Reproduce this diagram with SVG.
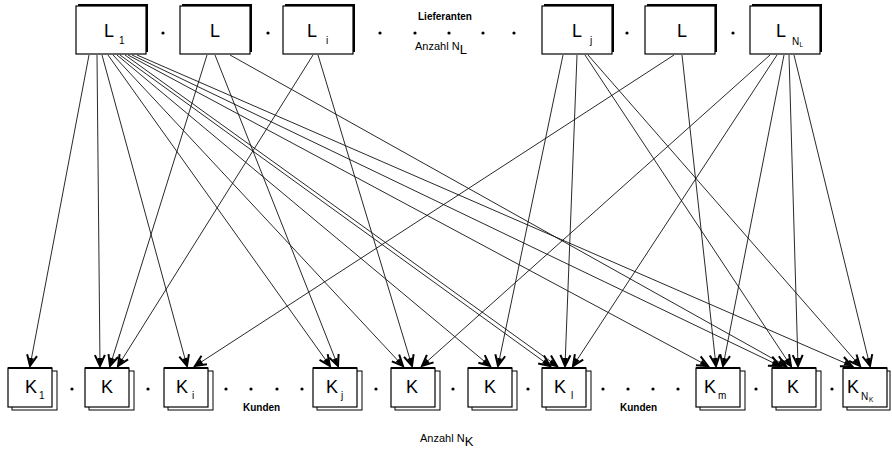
<svg xmlns="http://www.w3.org/2000/svg" width="892" height="450" viewBox="0 0 892 450">
  <style>
    text { font-family: "Liberation Sans", Arial, sans-serif; fill: #000; }
    .big { font-size: 18px; }
    .sub { font-size: 10px; }
    .subsub { font-size: 6.5px; }
    .lbl { font-size: 10px; font-weight: bold; }
    .cnt { font-size: 11px; }
    .shadow { fill: #000; }
    .box { fill: #fff; stroke: #000; stroke-width: 1.2; }
    .page { fill: #fff; stroke: #000; stroke-width: 1; }
    .edge { stroke: #111; stroke-width: 0.9; fill: none; marker-end: url(#arr); }
    .dot { fill: #000; }
  </style>
  <defs>
    <marker id="arr" markerUnits="userSpaceOnUse" markerWidth="16" markerHeight="16" refX="0" refY="0" viewBox="-13 -8 15 16" orient="auto">
      <path d="M-11,-5 L0,0 L-11,5" fill="none" stroke="#000" stroke-width="2"/>
      <path d="M-8,-2.5 L0,0 L-8,2.5 Z" fill="#000"/>
    </marker>
  </defs>

  <!-- connectors -->
  <g id="edges">
    <!-- from L1 -->
    <line class="edge" x1="89" y1="55" x2="30" y2="366"/>
    <line class="edge" x1="97" y1="55" x2="100" y2="366"/>
    <line class="edge" x1="102" y1="55" x2="187" y2="366"/>
    <line class="edge" x1="108" y1="55" x2="330" y2="366"/>
    <line class="edge" x1="113" y1="55" x2="403" y2="366"/>
    <line class="edge" x1="117" y1="55" x2="490" y2="366"/>
    <line class="edge" x1="120" y1="55" x2="550" y2="366"/>
    <line class="edge" x1="125" y1="55" x2="557" y2="366"/>
    <line class="edge" x1="128" y1="55" x2="708" y2="366"/>
    <line class="edge" x1="132" y1="55" x2="780" y2="366"/>
    <line class="edge" x1="137" y1="55" x2="852" y2="366"/>
    <!-- from L -->
    <line class="edge" x1="207" y1="55" x2="110" y2="366"/>
    <line class="edge" x1="215" y1="55" x2="338" y2="366"/>
    <line class="edge" x1="230" y1="55" x2="786" y2="366"/>
    <!-- from Li -->
    <line class="edge" x1="313" y1="55" x2="118" y2="366"/>
    <line class="edge" x1="318" y1="55" x2="412" y2="366"/>
    <!-- from Lj -->
    <line class="edge" x1="563" y1="55" x2="498" y2="366"/>
    <line class="edge" x1="577" y1="55" x2="565" y2="366"/>
    <line class="edge" x1="585" y1="55" x2="791" y2="366"/>
    <line class="edge" x1="588" y1="55" x2="860" y2="366"/>
    <!-- from L -->
    <line class="edge" x1="674" y1="55" x2="195" y2="366"/>
    <line class="edge" x1="682" y1="55" x2="716" y2="366"/>
    <!-- from L_NL -->
    <line class="edge" x1="770" y1="55" x2="422" y2="366"/>
    <line class="edge" x1="777" y1="55" x2="573" y2="366"/>
    <line class="edge" x1="784" y1="55" x2="723" y2="366"/>
    <line class="edge" x1="789" y1="55" x2="798" y2="366"/>
    <line class="edge" x1="794" y1="55" x2="870" y2="366"/>
  </g>

  <!-- suppliers -->
  <g id="L1"><rect class="shadow" x="78" y="4" width="70" height="48"/><rect class="box" x="76" y="6" width="70" height="48"/><text class="big" x="104" y="37">L</text><text class="sub" x="119" y="44">1</text></g>
  <g id="L2"><rect class="shadow" x="182" y="4" width="70" height="48"/><rect class="box" x="180" y="6" width="70" height="48"/><text class="big" x="210" y="37">L</text></g>
  <g id="Li"><rect class="shadow" x="285" y="4" width="70" height="48"/><rect class="box" x="283" y="6" width="70" height="48"/><text class="big" x="307" y="37">L</text><text class="sub" x="326" y="44">i</text></g>
  <g id="Lj"><rect class="shadow" x="544" y="4" width="70" height="48"/><rect class="box" x="542" y="6" width="70" height="48"/><text class="big" x="572" y="37">L</text><text class="sub" x="590" y="44">j</text></g>
  <g id="L5"><rect class="shadow" x="647" y="4" width="70" height="48"/><rect class="box" x="645" y="6" width="70" height="48"/><text class="big" x="677" y="37">L</text></g>
  <g id="LNL"><rect class="shadow" x="752" y="4" width="70" height="48"/><rect class="box" x="750" y="6" width="70" height="48"/><text class="big" x="776" y="37">L</text><text class="sub" x="792" y="45">N</text><text class="subsub" x="799.5" y="47">L</text></g>

  <g id="top-dots">
    <circle class="dot" cx="163" cy="33" r="1.6"/>
    <circle class="dot" cx="268" cy="33" r="1.6"/>
    <circle class="dot" cx="380" cy="33" r="1.6"/>
    <circle class="dot" cx="415" cy="33" r="1.6"/>
    <circle class="dot" cx="449" cy="33" r="1.6"/>
    <circle class="dot" cx="483" cy="33" r="1.6"/>
    <circle class="dot" cx="514" cy="33" r="1.6"/>
    <circle class="dot" cx="627" cy="33" r="1.6"/>
    <circle class="dot" cx="733" cy="33" r="1.6"/>
  </g>
  <text class="lbl" x="418" y="20">Lieferanten</text>
  <text class="cnt" x="415" y="50">Anzahl N<tspan font-size="13" dy="4">L</tspan></text>

  <!-- customers -->
  <g id="K1"><rect class="page" x="12" y="371" width="45" height="39"/><rect class="box" x="8" y="368" width="44" height="39"/><line x1="8" y1="368" x2="52" y2="368" stroke="#000" stroke-width="2"/><text class="big" x="25" y="393">K</text><text class="sub" x="39" y="399">1</text></g>
  <g id="K2"><rect class="page" x="89" y="371" width="45" height="39"/><rect class="box" x="85" y="368" width="44" height="39"/><line x1="85" y1="368" x2="129" y2="368" stroke="#000" stroke-width="2"/><text class="big" x="101" y="393">K</text></g>
  <g id="Ki"><rect class="page" x="168" y="371" width="45" height="39"/><rect class="box" x="164" y="368" width="44" height="39"/><line x1="164" y1="368" x2="208" y2="368" stroke="#000" stroke-width="2"/><text class="big" x="176" y="393">K</text><text class="sub" x="192" y="399">i</text></g>
  <g id="Kj"><rect class="page" x="317" y="371" width="45" height="39"/><rect class="box" x="313" y="368" width="44" height="39"/><line x1="313" y1="368" x2="357" y2="368" stroke="#000" stroke-width="2"/><text class="big" x="326" y="393">K</text><text class="sub" x="341" y="399">j</text></g>
  <g id="K5"><rect class="page" x="395" y="371" width="45" height="39"/><rect class="box" x="391" y="368" width="44" height="39"/><line x1="391" y1="368" x2="435" y2="368" stroke="#000" stroke-width="2"/><text class="big" x="406" y="393">K</text></g>
  <g id="K6"><rect class="page" x="472" y="371" width="45" height="39"/><rect class="box" x="468" y="368" width="44" height="39"/><line x1="468" y1="368" x2="512" y2="368" stroke="#000" stroke-width="2"/><text class="big" x="484" y="393">K</text></g>
  <g id="Kl"><rect class="page" x="546" y="371" width="45" height="39"/><rect class="box" x="542" y="368" width="44" height="39"/><line x1="542" y1="368" x2="586" y2="368" stroke="#000" stroke-width="2"/><text class="big" x="554" y="393">K</text><text class="sub" x="571" y="399">l</text></g>
  <g id="Km"><rect class="page" x="700" y="371" width="45" height="39"/><rect class="box" x="696" y="368" width="44" height="39"/><line x1="696" y1="368" x2="740" y2="368" stroke="#000" stroke-width="2"/><text class="big" x="704" y="393">K</text><text class="sub" x="718" y="399">m</text></g>
  <g id="K9"><rect class="page" x="776" y="371" width="45" height="39"/><rect class="box" x="772" y="368" width="44" height="39"/><line x1="772" y1="368" x2="816" y2="368" stroke="#000" stroke-width="2"/><text class="big" x="787" y="393">K</text></g>
  <g id="KNK"><rect class="page" x="847" y="371" width="43" height="39"/><rect class="box" x="843" y="368" width="44" height="39"/><line x1="843" y1="368" x2="887" y2="368" stroke="#000" stroke-width="2"/><text class="big" x="847" y="393">K</text><text class="sub" x="861" y="400">N</text><text class="subsub" x="869" y="402">K</text></g>

  <g id="bottom-dots">
    <circle class="dot" cx="72" cy="389" r="1.6"/>
    <circle class="dot" cx="148" cy="389" r="1.6"/>
    <circle class="dot" cx="226" cy="389" r="1.6"/>
    <circle class="dot" cx="251" cy="389" r="1.6"/>
    <circle class="dot" cx="277" cy="389" r="1.6"/>
    <circle class="dot" cx="302" cy="389" r="1.6"/>
    <circle class="dot" cx="376" cy="389" r="1.6"/>
    <circle class="dot" cx="453" cy="389" r="1.6"/>
    <circle class="dot" cx="528" cy="389" r="1.6"/>
    <circle class="dot" cx="603" cy="389" r="1.6"/>
    <circle class="dot" cx="628" cy="389" r="1.6"/>
    <circle class="dot" cx="653" cy="389" r="1.6"/>
    <circle class="dot" cx="678" cy="389" r="1.6"/>
    <circle class="dot" cx="756" cy="389" r="1.6"/>
    <circle class="dot" cx="832" cy="389" r="1.6"/>
  </g>
  <text class="lbl" x="243" y="411">Kunden</text>
  <text class="lbl" x="620" y="411">Kunden</text>
  <text class="cnt" x="420" y="442">Anzahl N<tspan font-size="13" dy="4">K</tspan></text>
</svg>
